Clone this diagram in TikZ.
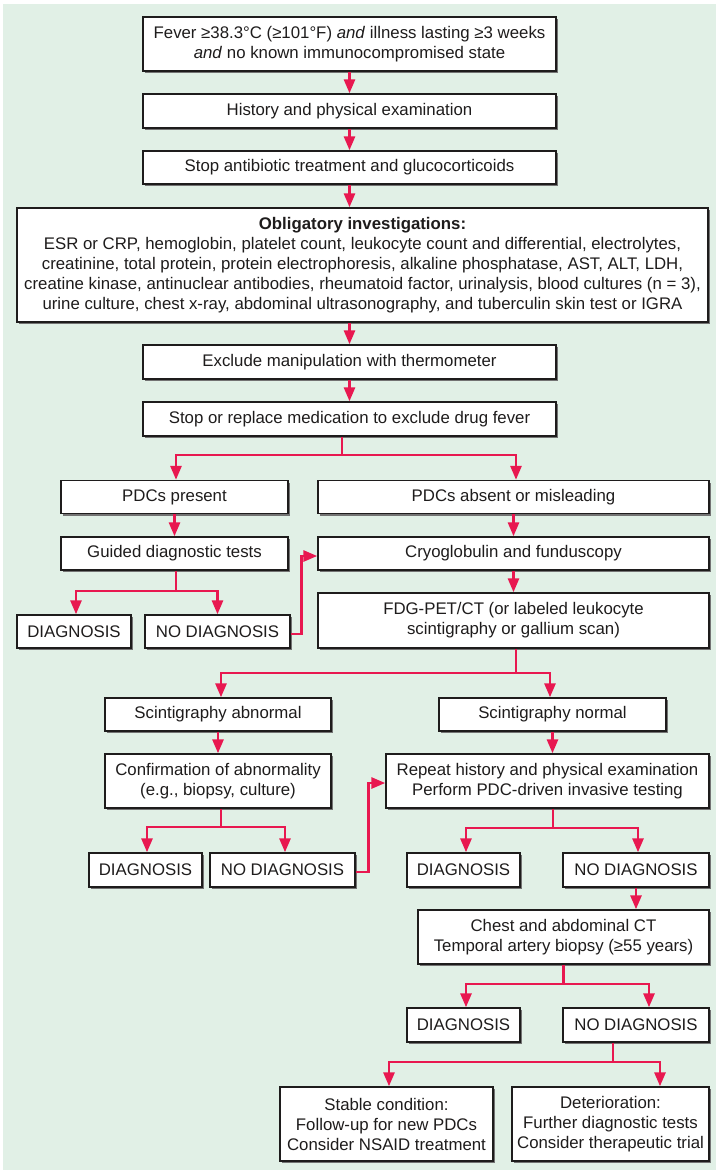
\documentclass[tikz,border=0pt]{standalone}
\usepackage{fontspec}
\setmainfont{Liberation Sans}
\usetikzlibrary{arrows.meta,shadows}
\definecolor{bggreen}{RGB}{225,240,230}
\definecolor{arrred}{RGB}{232,24,80}
\definecolor{txt}{RGB}{30,28,28}
\begin{document}
\begin{tikzpicture}[x=1pt,y=-1pt,
  box/.style={draw=txt,line width=1.4pt,fill=white,inner sep=0pt,align=center,text=txt,
    font=\fontsize{16.8}{20}\selectfont,
    drop shadow={shadow xshift=2.4pt,shadow yshift=-2.4pt,fill=black!55,opacity=1}},
  conn/.style={draw=arrred,line width=2.8pt,line join=miter},
  arr/.style={conn,-{Triangle[length=14pt,width=11pt]}}]
\useasboundingbox (0,0) rectangle (716,1171);
\fill[bggreen] (3,4) rectangle (716,1170);
% nodes
\node[box,minimum width=413pt,minimum height=54pt] (b1) at (349.5,44) {Fever ≥38.3°C (≥101°F) \textit{and} illness lasting ≥3 weeks\\\textit{and} no known immunocompromised state};
\node[box,minimum width=413pt,minimum height=34pt] (b2) at (349.5,111) {History and physical examination};
\node[box,minimum width=413pt,minimum height=33pt] (b3) at (349.5,167.5) {Stop antibiotic treatment and glucocorticoids};
\node[box,minimum width=691pt,minimum height=114pt] (b4) at (362.5,265) {\textbf{Obligatory investigations:}\\ESR or CRP, hemoglobin, platelet count, leukocyte count and differential, electrolytes,\\creatinine, total protein, protein electrophoresis, alkaline phosphatase, AST, ALT, LDH,\\creatine kinase, antinuclear antibodies, rheumatoid factor, urinalysis, blood cultures (n = 3),\\urine culture, chest x-ray, abdominal ultrasonography, and tuberculin skin test or IGRA};
\node[box,minimum width=413pt,minimum height=34pt] (b5) at (349.5,362) {Exclude manipulation with thermometer};
\node[box,minimum width=413pt,minimum height=34pt] (b6) at (349.5,419) {Stop or replace medication to exclude drug fever};
\node[box,minimum width=227pt,minimum height=33pt] (pdcp) at (174.5,497) {PDCs present};
\node[box,minimum width=391pt,minimum height=33pt] (pdca) at (513.5,497) {PDCs absent or misleading};
\node[box,minimum width=227pt,minimum height=33pt] (guided) at (174.5,553.5) {Guided diagnostic tests};
\node[box,minimum width=391pt,minimum height=33pt] (cryo) at (513.5,553.5) {Cryoglobulin and funduscopy};
\node[box,minimum width=114pt,minimum height=33pt] (d1) at (74,631.5) {DIAGNOSIS};
\node[box,minimum width=145pt,minimum height=33pt] (nd1) at (217.5,631.5) {NO DIAGNOSIS};
\node[box,minimum width=391pt,minimum height=55pt] (fdg) at (513.5,620.5) {FDG-PET/CT (or labeled leukocyte\\scintigraphy or gallium scan)};
\node[box,minimum width=226pt,minimum height=33pt] (sab) at (218,714.5) {Scintigraphy abnormal};
\node[box,minimum width=227pt,minimum height=33pt] (sno) at (552.5,714.5) {Scintigraphy normal};
\node[box,minimum width=226pt,minimum height=54pt] (conf) at (218,781) {Confirmation of abnormality\\(e.g., biopsy, culture)};
\node[box,minimum width=323pt,minimum height=54pt] (rep) at (547.5,781) {Repeat history and physical examination\\Perform PDC-driven invasive testing};
\node[box,minimum width=113pt,minimum height=34pt] (d2) at (145.5,870) {DIAGNOSIS};
\node[box,minimum width=145pt,minimum height=34pt] (nd2) at (282.5,870) {NO DIAGNOSIS};
\node[box,minimum width=113pt,minimum height=34pt] (d3) at (463.5,870) {DIAGNOSIS};
\node[box,minimum width=146pt,minimum height=34pt] (nd3) at (636,870) {NO DIAGNOSIS};
\node[box,minimum width=291pt,minimum height=54pt] (chest) at (563.5,937) {Chest and abdominal CT\\Temporal artery biopsy (≥55 years)};
\node[box,minimum width=113pt,minimum height=34pt] (d4) at (463.5,1025) {DIAGNOSIS};
\node[box,minimum width=146pt,minimum height=34pt] (nd4) at (636,1025) {NO DIAGNOSIS};
\node[box,minimum width=213pt,minimum height=74pt] (stable) at (386.5,1124) {Stable condition:\\Follow-up for new PDCs\\Consider NSAID treatment};
\node[box,minimum width=197pt,minimum height=74pt] (det) at (610.5,1124) {Deterioration:\\Further diagnostic tests\\Consider therapeutic trial};
% straight connectors
\draw[arr] (b1) -- (b2);
\draw[arr] (b2) -- (b3);
\draw[arr] (b3) -- (b4.north -| b3);
\draw[arr] (b4.south -| b5) -- (b5);
\draw[arr] (b5) -- (b6);
\draw[arr] (pdcp) -- (guided);
\draw[arr] (pdca) -- (cryo);
\draw[arr] (cryo) -- (fdg);
\draw[arr] (sab) -- (conf);
\draw[arr] (sno.south) -- (sno.south |- rep.north);
\draw[arr] (nd3.south) -- (nd3.south |- chest.north);
% branches
\coordinate (j1) at (342,455);
\draw[conn] ([xshift=-7.5pt]b6.south) -- (j1);
\draw[arr] (j1) -| ([xshift=1.5pt]pdcp.north);
\draw[arr] (j1) -| ([xshift=2.5pt]pdca.north);
\coordinate (j2) at (176,591);
\draw[conn] ([xshift=1.5pt]guided.south) -- (j2);
\draw[arr] (j2) -| ([xshift=2pt]d1.north);
\draw[arr] (j2) -| (nd1.north);
\coordinate (j3) at (516,673);
\draw[conn] ([xshift=2.5pt]fdg.south) -- (j3);
\draw[arr] (j3) -| ([xshift=3pt]sab.north);
\draw[arr] (j3) -| ([xshift=-2.5pt]sno.north);
\coordinate (j4) at (221,827);
\draw[conn] ([xshift=3pt]conf.south) -- (j4);
\draw[arr] (j4) -| ([xshift=1.5pt]d2.north);
\draw[arr] (j4) -| ([xshift=2.5pt]nd2.north);
\coordinate (j5) at (553,828);
\draw[conn] ([xshift=5.5pt]rep.south) -- (j5);
\draw[arr] (j5) -| ([xshift=2.5pt]d3.north);
\draw[arr] (j5) -| ([xshift=2pt]nd3.north);
\coordinate (j6) at (563.5,984);
\draw[conn] (chest.south) -- (j6);
\draw[arr] (j6) -| ([xshift=2.5pt]d4.north);
\draw[arr] (j6) -| ([xshift=13pt]nd4.north);
\coordinate (j7) at (613,1062);
\draw[conn] ([xshift=-23pt]nd4.south) -- (j7);
\draw[arr] (j7) -| ([xshift=2.5pt]stable.north);
\draw[arr] (j7) -| ([xshift=49.5pt]det.north);
% loops back
\draw[arr] ([yshift=-2.5pt]nd1.east) -- ++(11,0) |- ([yshift=-2.5pt]cryo.west);
\draw[arr] ([yshift=-2pt]nd2.east) -- ++(13,0) |- ([yshift=-2pt]rep.west);
\end{tikzpicture}
\end{document}
